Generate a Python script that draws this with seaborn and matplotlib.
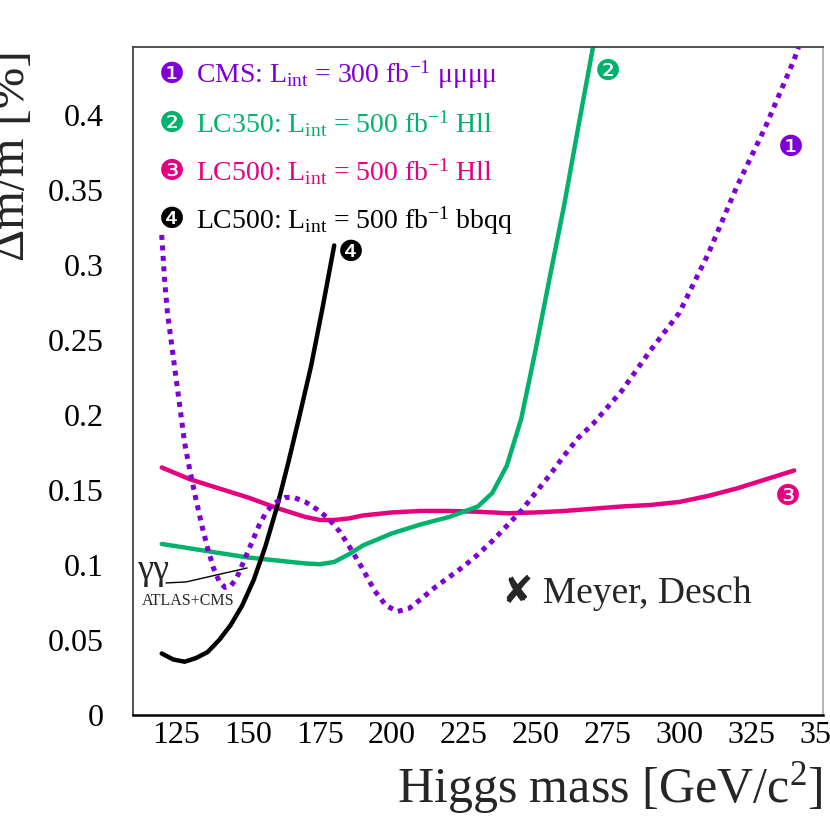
import seaborn as sns
import matplotlib.pyplot as plt
import matplotlib.ticker as mticker
import pandas as pd

# 1: CMS mu mu mu mu (dotted purple)
cms_mass = [120, 121, 122, 124, 126, 128, 130, 132, 134, 136, 138, 140, 142, 144, 146, 148,
            150, 152, 154, 156, 158, 160, 163, 166, 170, 174, 178, 182, 186, 190, 194,
            198, 202, 206, 210, 215, 220, 225, 230, 235, 240, 245, 250, 255, 260, 265,
            270, 280, 290, 300, 310, 320, 330, 340, 342]
cms_res = [0.320, 0.290, 0.268, 0.239, 0.210, 0.181, 0.161, 0.143, 0.126, 0.111, 0.098, 0.089,
           0.085, 0.086, 0.091, 0.100, 0.109, 0.118, 0.127, 0.134, 0.139, 0.142, 0.145,
           0.145, 0.142, 0.137, 0.131, 0.122, 0.110, 0.097, 0.083, 0.073, 0.069, 0.071,
           0.077, 0.085, 0.092, 0.099, 0.107, 0.116, 0.126, 0.136, 0.148, 0.160, 0.173,
           0.185, 0.194, 0.216, 0.243, 0.268, 0.307, 0.352, 0.392, 0.437, 0.448]

# 2: LC350 Hll (green)
lc350_mass = [120, 130, 140, 150, 160, 170, 175, 180, 185, 190, 200, 210, 220, 230, 235,
              240, 245, 250, 255, 260, 265, 270, 272]
lc350_res = [0.114, 0.111, 0.108, 0.105, 0.103, 0.101, 0.1005, 0.102, 0.107, 0.113, 0.121,
             0.127, 0.132, 0.139, 0.148, 0.166, 0.197, 0.243, 0.292, 0.340, 0.393, 0.445, 0.466]

# 3: LC500 Hll (magenta)
lc500_mass = [120, 130, 140, 150, 160, 170, 175, 180, 185, 190, 200, 210, 220, 230, 240,
              250, 260, 270, 280, 290, 300, 310, 320, 330, 340]
lc500_res = [0.165, 0.157, 0.151, 0.145, 0.138, 0.132, 0.130, 0.130, 0.131, 0.133, 0.135,
             0.136, 0.136, 0.1355, 0.1345, 0.135, 0.136, 0.1375, 0.139, 0.140, 0.142, 0.146,
             0.151, 0.157, 0.163]

# 4: LC500 bbqq (black)
bbqq_mass = [120, 124, 128, 132, 136, 140, 144, 148, 152, 156, 160, 164, 168, 172, 176, 180]
bbqq_res = [0.041, 0.037, 0.0355, 0.038, 0.042, 0.050, 0.060, 0.073, 0.090, 0.112, 0.138,
            0.168, 0.200, 0.233, 0.272, 0.313]

# gamma gamma leader line
gg_mass = [121.5, 128.5, 149.7]
gg_res = [0.088, 0.0887, 0.098]

purple, green, magenta = '#7f00d6', '#00b26c', '#e6007e'

legend_marks = ['\u2776', '\u2777', '\u2778', '\u2779']
legend_texts = [
    'CMS: L$_{\\mathrm{int}}$ = 300 fb$^{\\mathrm{-1}}$ \u03bc\u03bc\u03bc\u03bc',
    'LC350: L$_{\\mathrm{int}}$ = 500 fb$^{\\mathrm{-1}}$ Hll',
    'LC500: L$_{\\mathrm{int}}$ = 500 fb$^{\\mathrm{-1}}$ Hll',
    'LC500: L$_{\\mathrm{int}}$ = 500 fb$^{\\mathrm{-1}}$ bbqq',
]
legend_colors = [purple, green, magenta, 'black']

sns.set_style('white')
plt.rcParams['font.family'] = ['Liberation Serif', 'DejaVu Sans']
plt.rcParams['mathtext.fontset'] = 'custom'
plt.rcParams['mathtext.rm'] = 'Liberation Serif'
plt.rcParams['mathtext.it'] = 'Liberation Serif:italic'

fam = ['Liberation Serif', 'DejaVu Sans']

fig = plt.figure(figsize=(8.3, 8.24), dpi=100)
ax = fig.add_axes([0.1602, 0.1323, 0.8313, 0.8107])

df1 = pd.DataFrame({'m': cms_mass, 'r': cms_res})
df2 = pd.DataFrame({'m': lc350_mass, 'r': lc350_res})
df3 = pd.DataFrame({'m': lc500_mass, 'r': lc500_res})
df4 = pd.DataFrame({'m': bbqq_mass, 'r': bbqq_res})

sns.lineplot(data=df3, x='m', y='r', color=magenta, lw=3.2, ax=ax, sort=False)
sns.lineplot(data=df2, x='m', y='r', color=green, lw=3.2, ax=ax, sort=False)
sns.lineplot(data=df4, x='m', y='r', color='black', lw=3.2, ax=ax, sort=False)
l1 = sns.lineplot(data=df1, x='m', y='r', color=purple, lw=3.6, ax=ax, sort=False).lines[-1]
l1.set_dashes((1, 1.1))
l1.set_dash_capstyle('butt')

# gamma gamma annotation
ax.plot(gg_mass, gg_res, color='black', lw=1)
ax.text(111.3, 0.0905, '\u03b3\u03b3', fontsize=26, family=fam, va='baseline')
ax.text(113.0, 0.0735, 'ATLAS+CMS', fontsize=11.5, family=fam, va='baseline')

# curve labels
ax.text(338.9, 0.378, '\u2776', color=purple, fontsize=21, family='DejaVu Sans', ha='center', va='center')
ax.text(275.3, 0.429, '\u2777', color=green, fontsize=21, family='DejaVu Sans', ha='center', va='center')
ax.text(337.8, 0.145, '\u2778', color=magenta, fontsize=21, family='DejaVu Sans', ha='center', va='center')
ax.text(185.8, 0.308, '\u2779', color='black', fontsize=21, family='DejaVu Sans', ha='center', va='center')

ax.text(238.5, 0.0745, '\u2718 Meyer, Desch', fontsize=27, family=fam, va='baseline')

for i in range(4):
    y = 0.958 - i * 0.0725
    ax.text(0.0565, y, legend_marks[i], color=legend_colors[i], fontsize=21,
            family='DejaVu Sans', transform=ax.transAxes, ha='center', va='center')
    ax.text(0.0913, y, legend_texts[i], color=legend_colors[i], fontsize=20,
            transform=ax.transAxes, va='center')

ax.set_xlim(110, 350)
ax.set_ylim(0, 0.4453)
ax.xaxis.set_major_locator(mticker.MultipleLocator(25))
ax.xaxis.set_minor_locator(mticker.MultipleLocator(5))
ax.yaxis.set_major_locator(mticker.MultipleLocator(0.05))
ax.yaxis.set_minor_locator(mticker.MultipleLocator(0.01))
ax.yaxis.set_major_formatter(mticker.FuncFormatter(lambda v, p: '%g' % round(v, 3)))
ax.set_xticks([125, 150, 175, 200, 225, 250, 275, 300, 325, 350])

ax.tick_params(which='both', direction='in', top=False, right=False, colors='#444444',
               labelcolor='black')
ax.tick_params(which='major', length=13, width=1.2)
ax.tick_params(which='minor', length=7, width=1.2)
ax.tick_params(axis='y', labelsize=23, pad=21)
ax.tick_params(axis='x', labelsize=23, pad=4)

for s in ['left', 'bottom', 'top']:
    ax.spines[s].set_color('#444444')
    ax.spines[s].set_linewidth(1.3)
ax.spines['bottom'].set_color('black')
ax.spines['bottom'].set_linewidth(1.8)
ax.spines['right'].set_color('#b0b0b0')
ax.spines['right'].set_linewidth(1.3)

ax.set_xlabel('Higgs mass [GeV/c$^{2}$]', fontsize=36)
ax.set_ylabel('\u0394m/m [%]', fontsize=36)
ax.xaxis.set_label_coords(0.691, -0.068)
ax.yaxis.set_label_coords(-0.142, 0.837)

fig.savefig('out.png', dpi=100)
